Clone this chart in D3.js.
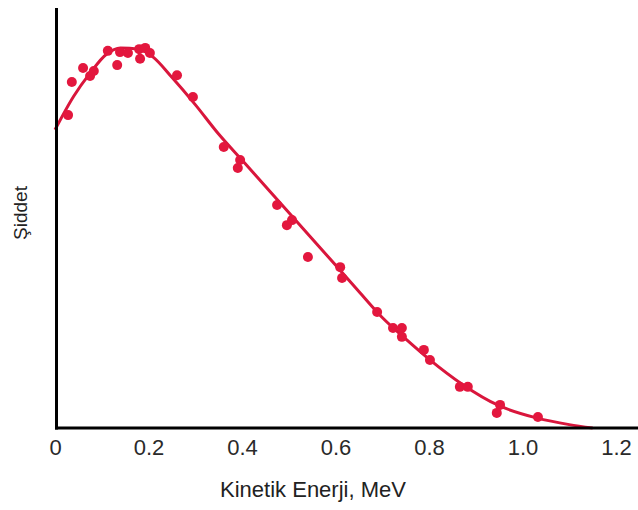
<!DOCTYPE html>
<html>
<head>
<meta charset="utf-8">
<title>Kinetik Enerji</title>
<style>
	body { margin: 0; background: #fff; }
	svg { display: block; font-family: "Liberation Sans", Arial, sans-serif; }
	.tick text { font-size: 22px; fill: #2a2a2a; }
</style>
<script src="https://d3js.org/d3.v7.min.js"></script>
</head>
<body>
<div id="chart"></div>
<script>
	// measured points (energy in MeV, intensity in arbitrary units 0-100)
	var pointE = [0.028, 0.036, 0.060, 0.075, 0.083, 0.113, 0.133, 0.139, 0.156, 0.180, 0.182, 0.193, 0.203,
		0.261, 0.295, 0.361, 0.396, 0.391, 0.475, 0.507, 0.496, 0.541, 0.610, 0.614, 0.689, 0.723,
		0.742, 0.742, 0.789, 0.802, 0.866, 0.883, 0.952, 0.945, 1.033];
	var pointI = [74.5, 82.4, 85.7, 83.8, 85.0, 89.8, 86.4, 89.5, 89.3, 90.2, 87.9, 90.5, 89.3,
		84.0, 78.8, 66.9, 63.8, 61.9, 53.1, 49.5, 48.3, 40.7, 38.3, 35.7, 27.6, 23.8,
		23.8, 21.7, 18.6, 16.2, 9.8, 9.8, 5.5, 3.6, 2.6];

	// fitted curve
	var curveE = [0, 0.04, 0.075, 0.11, 0.14, 0.18, 0.21, 0.25, 0.30, 0.35, 0.40, 0.50,
		0.60, 0.65, 0.70, 0.75, 0.80, 0.87, 0.95, 1.03, 1.10, 1.15];
	var curveI = [71, 79, 84.5, 89, 90.5, 90.2, 88.3, 83.5, 77, 70, 63.8, 51.3,
		38.8, 32.5, 26.3, 21.2, 16.4, 10.5, 5.3, 2.4, 0.8, 0];

	var ticks = [0, 0.2, 0.4, 0.6, 0.8, 1.0, 1.2];
	var tickLabels = ["0", "0.2", "0.4", "0.6", "0.8", "1.0", "1.2"];

	var svg = d3.select("#chart").append("svg")
		.attr("width", 638)
		.attr("height", 510);

	var x = d3.scaleLinear().domain([0, 1.2]).range([55, 616]),
		y = d3.scaleLinear().domain([0, 100]).range([428, 8]);

	var red = "#e3173e";

	// curve
	var line = d3.line()
		.x(function(d) { return x(d[0]); })
		.y(function(d) { return y(d[1]); })
		.curve(d3.curveMonotoneX);

	svg.append("path")
		.datum(d3.zip(curveE, curveI))
		.attr("fill", "none")
		.attr("stroke", "#d9163c")
		.attr("stroke-width", 3)
		.attr("d", line);

	svg.selectAll(".dot")
		.data(d3.zip(pointE, pointI))
		.enter().append("circle")
			.attr("class", "dot")
			.attr("cx", function(d) { return x(d[0]); })
			.attr("cy", function(d) { return y(d[1]); })
			.attr("r", 5)
			.attr("fill", red);

	// axes
	var axisX = d3.axisBottom(x)
		.tickValues(ticks)
		.tickFormat(function(d, i) { return tickLabels[i]; })
		.tickSize(0)
		.tickPadding(0);

	var gx = svg.append("g")
		.attr("transform", "translate(0," + 428 + ")")
		.call(axisX);
	gx.select(".domain").remove();
	gx.selectAll(".tick text").attr("dy", null).attr("y", 27);

	svg.append("line")
		.attr("x1", 55).attr("x2", 638)
		.attr("y1", 428).attr("y2", 428)
		.attr("stroke", "#000")
		.attr("stroke-width", 3);

	svg.append("line")
		.attr("x1", 56.5).attr("x2", 56.5)
		.attr("y1", 8).attr("y2", 429.5)
		.attr("stroke", "#000")
		.attr("stroke-width", 3);

	svg.append("text")
		.attr("x", 313)
		.attr("y", 497)
		.attr("text-anchor", "middle")
		.style("font-size", "22px")
		.attr("fill", "#222")
		.text("Kinetik Enerji, MeV");

	svg.append("text")
		.attr("transform", "translate(27,213) rotate(-90)")
		.attr("text-anchor", "middle")
		.style("font-size", "19px")
		.attr("fill", "#222")
		.text("Şiddet");
</script>
</body>
</html>
